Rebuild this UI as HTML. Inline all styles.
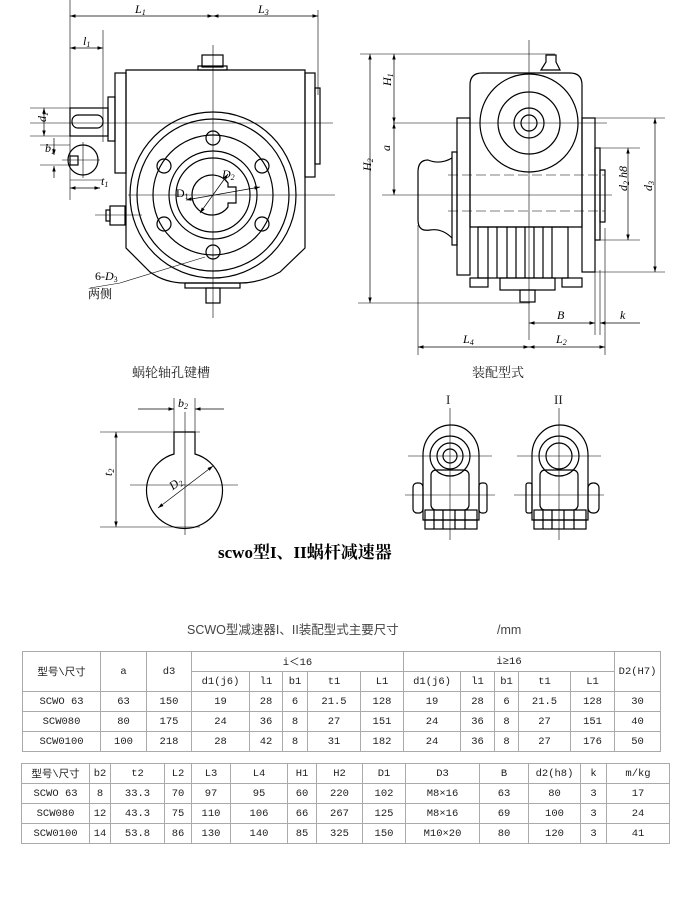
<!DOCTYPE html>
<html><head><meta charset="utf-8"><style>
body{margin:0;background:#fff;width:686px;height:902px;position:relative;overflow:hidden;font-family:"Liberation Sans","Noto Sans CJK SC",sans-serif}
svg{position:absolute;left:0;top:0}
table{position:absolute;border-collapse:collapse;table-layout:fixed;font-family:"Liberation Mono","Noto Sans CJK SC",monospace;font-size:10.5px;color:#222}
td{border:1px solid #aaa;text-align:center;padding:0;height:19px;white-space:nowrap;overflow:hidden}
.t{position:absolute;white-space:nowrap}
</style></head><body>
<svg width="686" height="902" viewBox="0 0 686 902" font-family="Liberation Serif, Noto Serif CJK SC, serif">
<defs><marker id="a" markerWidth="8" markerHeight="6" refX="8" refY="3" orient="auto-start-reverse"><path d="M0,0.5 L8,3 L0,5.5z" fill="#000"/></marker></defs>
<g fill="none" stroke="#000" stroke-width="1.2">
<!-- LEFT VIEW -->
<path d="M126,70 H305 V248 L280,272 Q260,283 240,283 H185 Q165,283 150,272 L126,248 Z"/>
<rect x="115" y="73" width="11" height="100"/>
<rect x="108" y="97" width="7" height="44"/>
<rect x="305" y="73" width="10" height="104"/>
<rect x="315" y="88" width="5" height="76"/>
<rect x="70" y="108" width="38" height="28"/>
<rect x="72" y="115" width="31" height="13" rx="6"/>
<rect x="202" y="55" width="21" height="12"/><rect x="198" y="66" width="29" height="4"/>
<circle cx="213" cy="195" r="83"/><circle cx="213" cy="195" r="76"/><circle cx="213" cy="195" r="60"/>
<circle cx="213" cy="195" r="44"/><circle cx="213" cy="195" r="37"/>
<path d="M228,183 A20,20 0 1 0 228,207 V203 H236 V187 H228 Z"/>
<circle cx="213" cy="138" r="7"/><circle cx="213" cy="252" r="7"/>
<circle cx="164" cy="166" r="7"/><circle cx="262" cy="166" r="7"/>
<circle cx="164" cy="224" r="7"/><circle cx="262" cy="224" r="7"/>
<rect x="110" y="206" width="15" height="19"/><rect x="106" y="210" width="4" height="11"/>
<rect x="185" y="283" width="55" height="5"/><rect x="206" y="288" width="14" height="15"/>
<circle cx="83" cy="160" r="15"/><rect x="70" y="156" width="8" height="9"/>
<!-- RIGHT VIEW -->
<path d="M470,227 V85 Q470,73 482,73 H570 Q582,73 582,85 V227 Z"/>
<circle cx="529" cy="123" r="49"/><circle cx="529" cy="123" r="31"/><circle cx="529" cy="123" r="15"/><circle cx="529" cy="123" r="8"/>
<path d="M541,70 L546,62 V55 H556 V62 L560,70 Z"/>
<rect x="457" y="118" width="13" height="157"/><rect x="452" y="152" width="5" height="93"/>
<path d="M452,158 Q440,165 428,160 Q418,160 418,172 V220 Q418,232 430,230 Q442,228 452,238"/>
<rect x="582" y="118" width="13" height="154"/><rect x="595" y="148" width="5" height="92"/><rect x="600" y="170" width="5" height="52"/>
<rect x="478" y="227" width="90" height="51"/>
<rect x="470" y="278" width="18" height="9"/><rect x="562" y="278" width="20" height="9"/>
<rect x="500" y="278" width="55" height="12"/><rect x="520" y="290" width="15" height="12"/>
<path d="M488,227 V278 M497,227 V278 M507,227 V278 M516,227 V278 M525,227 V278 M534,227 V278 M543,227 V278 M552,227 V278"/>
<!-- KEYWAY -->
<path d="M174,432 H195 V454 A38,38 0 1 1 174,454 Z"/>
<!-- VIEW I, II -->
<g id="v1">
<path d="M423,520 V455 A28,30 0 0 1 479,455 V520 Z"/>
<circle cx="450" cy="456" r="20"/><circle cx="450" cy="456" r="13"/><circle cx="450" cy="456" r="7"/>
<rect x="431" y="470" width="38" height="40" rx="5"/>
<rect x="413" y="483" width="10" height="30" rx="4"/><rect x="479" y="483" width="8" height="30" rx="3"/>
<rect x="425" y="510" width="52" height="19"/>
<path d="M434,510 V529 M443,510 V529 M455,510 V529 M465,510 V529 M425,520 H477"/>
</g>
<g transform="translate(109,0)">
<path d="M423,520 V455 A28,30 0 0 1 479,455 V520 Z"/>
<circle cx="450" cy="456" r="20"/><circle cx="450" cy="456" r="13"/>
<rect x="431" y="470" width="38" height="40" rx="5"/>
<rect x="417" y="483" width="6" height="30" rx="2"/><rect x="479" y="483" width="11" height="30" rx="5"/>
<rect x="425" y="510" width="52" height="19"/>
<path d="M434,510 V529 M443,510 V529 M455,510 V529 M465,510 V529 M425,520 H477"/>
</g>
</g>
<!-- thin lines -->
<g fill="none" stroke="#000" stroke-width="0.6">
<path d="M70,0 V200 M318,10 V95 M103,30 V142 M213,45 V318 M30,123 H333 M128,195 H335 M95,215 H142 M62,160 H100 M83,142 V178"/>
<path d="M529,40 V340 M393,123 H607 M382,195 H612 M360,54 H555 M358,303 H530 M418,225 V355 M605,228 V355 M595,270 V335 M600,270 V335 M597,148 H640 M600,240 H640 M590,118 H665 M590,272 H665"/>
<path d="M448,175 H605 M448,211 H605" stroke-dasharray="10,4"/>
<path d="M100,432 H200 M100,527 H200 M174,398 V432 M195,398 V432 M130,485 H238 M185,412 V535"/>
<path d="M450,408 V540 M408,456 H492 M405,495 H495 M559,408 V540 M517,456 H601 M514,495 H604"/>
<path d="M120,283 L90,288 M120,283 L205,257"/>
<path d="M30,108 H70 M30,136 H70 M40,145 H70 M40,165 H70 M70,180 H103"/>
</g>
<g stroke="#000" stroke-width="0.7" fill="none">
<line x1="70" y1="16" x2="213" y2="16" marker-start="url(#a)" marker-end="url(#a)"/>
<line x1="213" y1="16" x2="318" y2="16" marker-start="url(#a)" marker-end="url(#a)"/>
<line x1="70" y1="48" x2="103" y2="48" marker-start="url(#a)" marker-end="url(#a)"/>
<line x1="44" y1="108" x2="44" y2="136" marker-start="url(#a)" marker-end="url(#a)"/>
<line x1="54" y1="138" x2="54" y2="155" marker-end="url(#a)"/><line x1="54" y1="178" x2="54" y2="166" marker-end="url(#a)"/>
<line x1="70" y1="188" x2="100" y2="188" marker-start="url(#a)" marker-end="url(#a)"/>
<line x1="186" y1="200" x2="260" y2="187" marker-start="url(#a)" marker-end="url(#a)"/>
<line x1="200" y1="213" x2="228" y2="174" marker-start="url(#a)" marker-end="url(#a)"/>
<line x1="370" y1="54" x2="370" y2="303" marker-start="url(#a)" marker-end="url(#a)"/>
<line x1="394" y1="54" x2="394" y2="123" marker-start="url(#a)" marker-end="url(#a)"/>
<line x1="394" y1="123" x2="394" y2="195" marker-start="url(#a)" marker-end="url(#a)"/>
<line x1="628" y1="148" x2="628" y2="240" marker-start="url(#a)" marker-end="url(#a)"/>
<line x1="655" y1="118" x2="655" y2="272" marker-start="url(#a)" marker-end="url(#a)"/>
<line x1="529" y1="323" x2="595" y2="323" marker-start="url(#a)" marker-end="url(#a)"/>
<line x1="640" y1="323" x2="600" y2="323" marker-end="url(#a)"/>
<line x1="418" y1="347" x2="529" y2="347" marker-start="url(#a)" marker-end="url(#a)"/>
<line x1="529" y1="347" x2="605" y2="347" marker-start="url(#a)" marker-end="url(#a)"/>
<line x1="116" y1="432" x2="116" y2="527" marker-start="url(#a)" marker-end="url(#a)"/>
<line x1="138" y1="409" x2="174" y2="409" marker-end="url(#a)"/><line x1="224" y1="409" x2="195" y2="409" marker-end="url(#a)"/>
<line x1="158" y1="508" x2="213" y2="466" marker-start="url(#a)" marker-end="url(#a)"/>
</g>
<g font-style="italic" font-size="12" fill="#000">
<text x="135" y="13">L<tspan font-size="8" dy="2">1</tspan></text>
<text x="258" y="13">L<tspan font-size="8" dy="2">3</tspan></text>
<text x="83" y="45">l<tspan font-size="8" dy="2">1</tspan></text>
<text x="40" y="128" transform="rotate(-90 40 122)">d<tspan font-size="8" dy="2">1</tspan></text>
<text x="45" y="152">b<tspan font-size="8" dy="2">1</tspan></text>
<text x="101" y="185">t<tspan font-size="8" dy="2">1</tspan></text>
<text x="176" y="197" font-style="normal">D<tspan font-size="8" dy="2">1</tspan></text>
<text x="222" y="178">D<tspan font-size="8" dy="2">2</tspan></text>
<text x="95" y="280" font-style="normal">6-<tspan font-style="italic">D</tspan><tspan font-size="8" dy="2">3</tspan></text>
<text x="88" y="298" font-style="normal" font-size="12">两侧</text>
<text x="370" y="180" transform="rotate(-90 366 175)">H<tspan font-size="8" dy="2">2</tspan></text>
<text x="390" y="95" transform="rotate(-90 386 90)">H<tspan font-size="8" dy="2">1</tspan></text>
<text x="391" y="158" transform="rotate(-90 387 155)">a</text>
<text x="626" y="200" transform="rotate(-90 622 195)">d<tspan font-size="8" dy="2">2</tspan><tspan dy="-2"> h8</tspan></text>
<text x="653" y="198" transform="rotate(-90 649 195)">d<tspan font-size="8" dy="2">3</tspan></text>
<text x="557" y="319">B</text><text x="620" y="319">k</text>
<text x="463" y="343">L<tspan font-size="8" dy="2">4</tspan></text>
<text x="556" y="343">L<tspan font-size="8" dy="2">2</tspan></text>
<text x="178" y="407">b<tspan font-size="8" dy="2">2</tspan></text>
<text x="112" y="484" transform="rotate(-90 108 480)">t<tspan font-size="8" dy="2">2</tspan></text>
<text x="170" y="488" transform="rotate(-37 175 485)">D<tspan font-size="8" dy="2">2</tspan></text>
</g>
<g font-size="13" fill="#222">
<text x="132" y="377">蜗轮轴孔键槽</text>
<text x="472" y="377">装配型式</text>
<text x="446" y="404">I</text><text x="554" y="404">II</text>
</g>
<text x="218" y="558" font-size="17" font-weight="bold" font-family="Liberation Serif, Noto Serif CJK SC, serif">scwo型I、II蜗杆减速器</text>
<text x="187" y="634" font-size="12.5" fill="#444" font-family="Liberation Sans, Noto Sans CJK SC, sans-serif">SCWO型减速器I、II装配型式主要尺寸</text>
<text x="497" y="634" font-size="12.5" fill="#444" font-family="Liberation Sans, sans-serif">/mm</text>
</svg>
<table style="left:22px;top:651px;width:638px">
<colgroup><col style="width:78px"><col style="width:46px"><col style="width:45px"><col style="width:58px"><col style="width:33px"><col style="width:25px"><col style="width:53px"><col style="width:43px"><col style="width:57px"><col style="width:34px"><col style="width:24px"><col style="width:52px"><col style="width:44px"><col style="width:46px"></colgroup>
<tr><td rowspan="2">型号\尺寸</td><td rowspan="2">a</td><td rowspan="2">d3</td><td colspan="5">i＜16</td><td colspan="5">i≥16</td><td rowspan="2">D2(H7)</td></tr>
<tr><td>d1(j6)</td><td>l1</td><td>b1</td><td>t1</td><td>L1</td><td>d1(j6)</td><td>l1</td><td>b1</td><td>t1</td><td>L1</td></tr>
<tr><td>SCWO 63</td><td>63</td><td>150</td><td>19</td><td>28</td><td>6</td><td>21.5</td><td>128</td><td>19</td><td>28</td><td>6</td><td>21.5</td><td>128</td><td>30</td></tr>
<tr><td>SCW080</td><td>80</td><td>175</td><td>24</td><td>36</td><td>8</td><td>27</td><td>151</td><td>24</td><td>36</td><td>8</td><td>27</td><td>151</td><td>40</td></tr>
<tr><td>SCW0100</td><td>100</td><td>218</td><td>28</td><td>42</td><td>8</td><td>31</td><td>182</td><td>24</td><td>36</td><td>8</td><td>27</td><td>176</td><td>50</td></tr>
</table>
<table style="left:21px;top:763px;width:648px">
<colgroup><col style="width:68px"><col style="width:21px"><col style="width:54px"><col style="width:27px"><col style="width:39px"><col style="width:57px"><col style="width:29px"><col style="width:46px"><col style="width:43px"><col style="width:74px"><col style="width:49px"><col style="width:52px"><col style="width:26px"><col style="width:63px"></colgroup>
<tr><td>型号\尺寸</td><td>b2</td><td>t2</td><td>L2</td><td>L3</td><td>L4</td><td>H1</td><td>H2</td><td>D1</td><td>D3</td><td>B</td><td>d2(h8)</td><td>k</td><td>m/kg</td></tr>
<tr><td>SCWO 63</td><td>8</td><td>33.3</td><td>70</td><td>97</td><td>95</td><td>60</td><td>220</td><td>102</td><td>M8×16</td><td>63</td><td>80</td><td>3</td><td>17</td></tr>
<tr><td>SCW080</td><td>12</td><td>43.3</td><td>75</td><td>110</td><td>106</td><td>66</td><td>267</td><td>125</td><td>M8×16</td><td>69</td><td>100</td><td>3</td><td>24</td></tr>
<tr><td>SCW0100</td><td>14</td><td>53.8</td><td>86</td><td>130</td><td>140</td><td>85</td><td>325</td><td>150</td><td>M10×20</td><td>80</td><td>120</td><td>3</td><td>41</td></tr>
</table>
</body></html>
